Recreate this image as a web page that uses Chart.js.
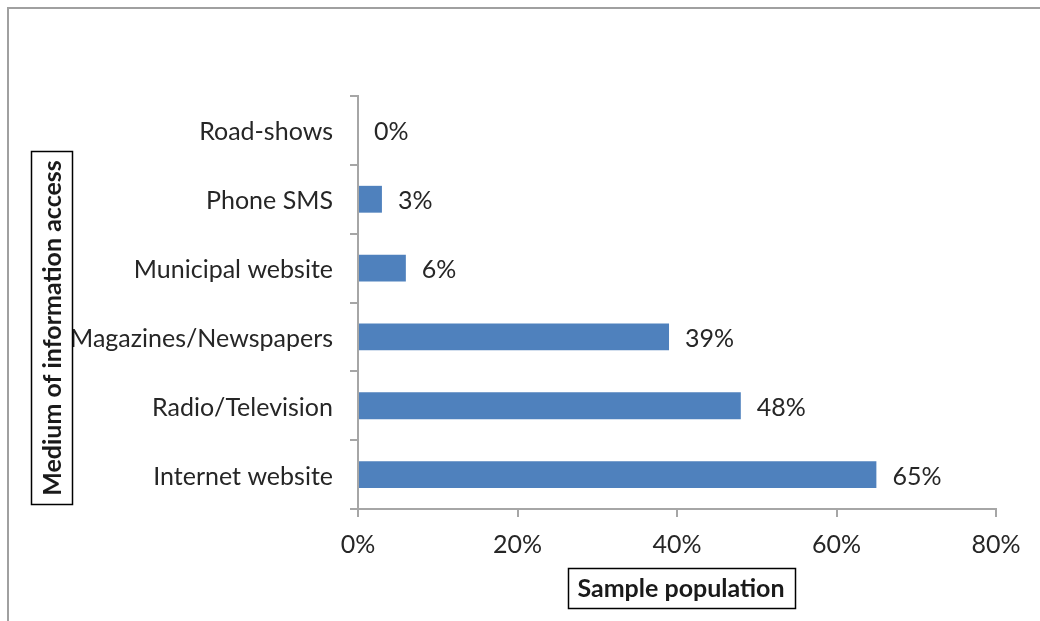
<!DOCTYPE html>
<html>
<head>
<meta charset="utf-8">
<script src="https://cdn.jsdelivr.net/npm/chart.js@4/dist/chart.umd.min.js"></script>
<style>
  html, body { margin: 0; padding: 0; background: #ffffff; }
  #wrap { position: relative; width: 1040px; height: 621px; }
</style>
</head>
<body>
<div id="wrap"><canvas id="chart" width="1040" height="621"></canvas></div>
<script>
// Share of respondents by medium of information access
const categories = ['Road-shows', 'Phone SMS', 'Municipal website', 'Magazines/Newspapers', 'Radio/Television', 'Internet website'];
const shares = [0, 3, 6, 39, 48, 65];
const xTicks = [0, 20, 40, 60, 80];
const xTitle = 'Sample population';
const yTitle = 'Medium of information access';

const FONT = 'Lato, "Open Sans", sans-serif';
const TEXT = '#262626';
const AXIS = '#a6a6a6';
const SIZE = 25;

// Value labels to the right of each bar
const valueLabels = {
  id: 'valueLabels',
  afterDatasetsDraw(chart) {
    const ctx = chart.ctx;
    const meta = chart.getDatasetMeta(0);
    ctx.save();
    ctx.font = SIZE + 'px ' + FONT;
    ctx.fillStyle = TEXT;
    ctx.textAlign = 'left';
    ctx.textBaseline = 'middle';
    meta.data.forEach((bar, i) => {
      ctx.fillText(shares[i] + '%', bar.x + 16, bar.y + 2);
    });
    ctx.restore();
  }
};

// Outer frame and boxed axis titles
const frameAndTitles = {
  id: 'frameAndTitles',
  afterDraw(chart) {
    const ctx = chart.ctx;
    const a = chart.chartArea;
    ctx.save();
    ctx.strokeStyle = '#a0a0a0';
    ctx.lineWidth = 2;
    ctx.beginPath();
    ctx.moveTo(8, 640);
    ctx.lineTo(8, 8);
    ctx.lineTo(1060, 8);
    ctx.stroke();

    ctx.font = 'bold ' + SIZE + 'px ' + FONT;
    ctx.fillStyle = '#1a1a1a';
    ctx.strokeStyle = '#000000';
    ctx.lineWidth = 1.5;
    ctx.textAlign = 'center';
    ctx.textBaseline = 'middle';

    // x title
    const cx = (a.left + a.right) / 2 + 4;
    const cy = 588;
    ctx.strokeRect(568.5, 568.5, 227, 40);
    ctx.fillText(xTitle, cx, cy + 1);

    // y title, rotated
    ctx.strokeRect(31.5, 151.5, 41, 353);
    ctx.translate(52, 328);
    ctx.rotate(-Math.PI / 2);
    ctx.fillText(yTitle, 0, 1);
    ctx.restore();
  }
};

new Chart(document.getElementById('chart'), {
  type: 'bar',
  data: {
    labels: categories,
    datasets: [{
      data: shares,
      backgroundColor: '#4f81bd',
      borderWidth: 0,
      barPercentage: 0.39,
      categoryPercentage: 1
    }]
  },
  options: {
    indexAxis: 'y',
    responsive: false,
    animation: false,
    layout: { padding: { top: 96, right: 44, left: 0, bottom: 0 } },
    plugins: { legend: { display: false }, tooltip: { enabled: false } },
    scales: {
      x: {
        min: 0, max: 80,
        afterBuildTicks(scale) { scale.ticks = xTicks.map(v => ({ value: v })); },
        afterFit(scale) { scale.height = 621 - 509; },
        border: { display: true, color: AXIS, width: 2 },
        grid: { drawOnChartArea: false, drawTicks: true, tickLength: 8, color: AXIS, lineWidth: 2 },
        ticks: {
          padding: 13,
          color: TEXT,
          font: { family: FONT, size: SIZE },
          callback: v => v + '%'
        }
      },
      y: {
        afterFit(scale) { scale.width = 358; },
        border: { display: true, color: AXIS, width: 2 },
        grid: { drawOnChartArea: false, drawTicks: true, tickLength: 8, color: AXIS, lineWidth: 2, offset: true },
        ticks: {
          padding: 17,
          labelOffset: 2,
          color: TEXT,
          font: { family: FONT, size: SIZE }
        }
      }
    }
  },
  plugins: [valueLabels, frameAndTitles]
});
</script>
</body>
</html>
